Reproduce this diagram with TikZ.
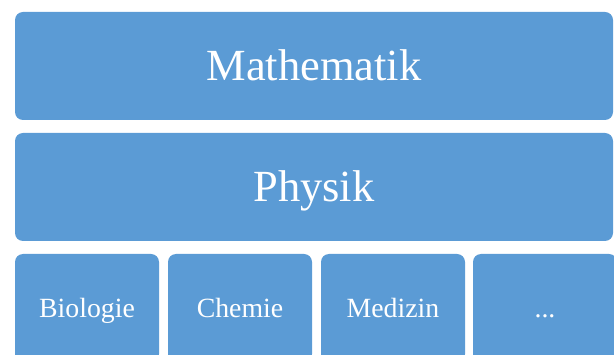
\documentclass[tikz,border=0pt]{standalone}
\usepackage{fontspec}
\setmainfont{Liberation Serif}
\definecolor{boxblue}{HTML}{5B9BD5}
\begin{document}
\begin{tikzpicture}[x=1pt,y=-1pt,
  blk/.style={fill=boxblue, draw=none, rounded corners=8pt, text=white,
    inner sep=0pt, text depth=0pt},
  bigblk/.style={blk, minimum width=598pt, minimum height=108pt,
    text height=29.5pt, font=\fontsize{44.5}{50}\selectfont},
  smallblk/.style={blk, minimum width=144pt, minimum height=108pt,
    text height=18.4pt, font=\fontsize{27.8}{32}\selectfont}]
\useasboundingbox (0,0) rectangle (614,355);
\clip (0,0) rectangle (614,355);
\node[bigblk] (mathe) at (314,66) {Mathematik};
\node[bigblk] (physik) at (314,187) {Physik};
\node[smallblk] (bio) at (87,308) {Biologie};
\node[smallblk] (chemie) at (240,308) {Chemie};
\node[smallblk] (medizin) at (393,308) {Medizin};
\node[smallblk] (more) at (545,308) {...};
\end{tikzpicture}
\end{document}
